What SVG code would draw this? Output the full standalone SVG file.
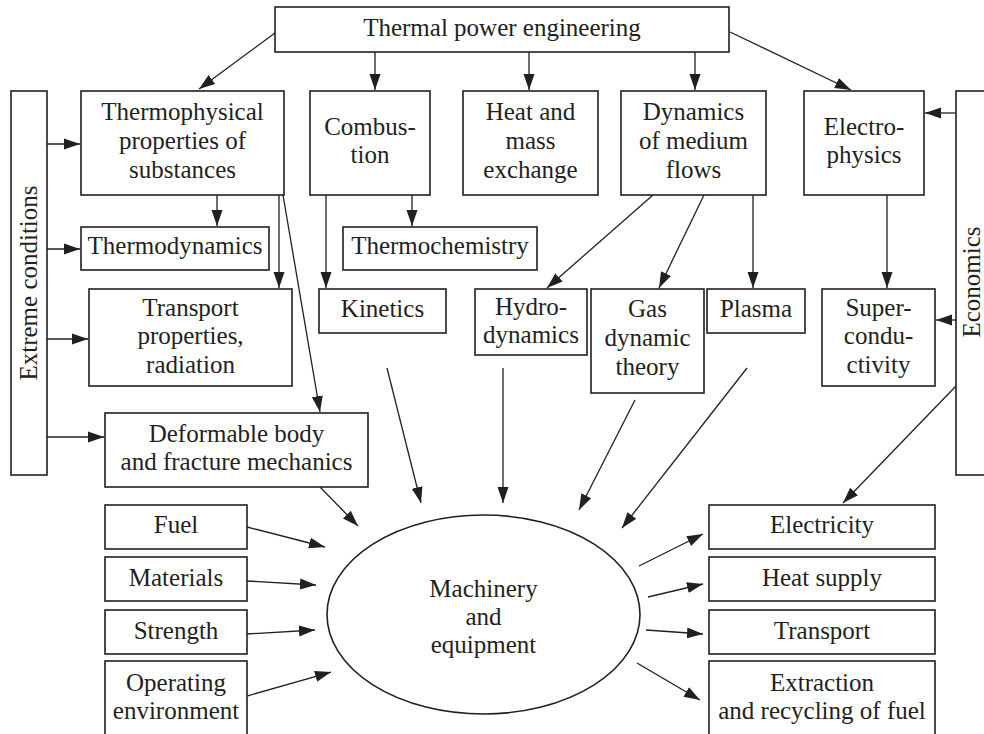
<svg xmlns="http://www.w3.org/2000/svg" width="984" height="734" viewBox="0 0 984 734" font-family="'Liberation Serif', 'DejaVu Serif', serif">
<defs>
<marker id="ah" markerUnits="userSpaceOnUse" markerWidth="17" markerHeight="13" refX="16" refY="6" orient="auto">
<path d="M0,0.5 L16,6 L0,11.5 z" fill="#231f20"/>
</marker>
<style>
rect,ellipse{fill:#fff;stroke:#231f20;stroke-width:1.6}
text{font-family:'Liberation Serif','DejaVu Serif',serif;font-size:25px;fill:#231f20;text-anchor:middle}
#connectors line{stroke:#231f20;stroke-width:1.3;marker-end:url(#ah)}
</style>
</defs>
<rect x="0" y="0" width="984" height="734" style="fill:#fff;stroke:none"/>
<g id="connectors">
<line x1="275" y1="33" x2="199" y2="89"/>
<line x1="375" y1="52" x2="375" y2="90"/>
<line x1="529" y1="52" x2="529" y2="90"/>
<line x1="695" y1="52" x2="695" y2="90"/>
<line x1="730" y1="32" x2="851" y2="90"/>
<line x1="956" y1="113" x2="925" y2="113"/>
<line x1="956" y1="320" x2="936" y2="320"/>
<line x1="47" y1="144" x2="80" y2="144"/>
<line x1="47" y1="249" x2="80" y2="249"/>
<line x1="47" y1="339" x2="88" y2="339"/>
<line x1="47" y1="437" x2="104" y2="437"/>
<line x1="217" y1="195" x2="217" y2="226"/>
<line x1="279" y1="195" x2="279" y2="288"/>
<line x1="283" y1="195" x2="320" y2="412"/>
<line x1="412" y1="195" x2="412" y2="226"/>
<line x1="326" y1="195" x2="326" y2="288"/>
<line x1="653" y1="195" x2="547" y2="288"/>
<line x1="704" y1="195" x2="659" y2="288"/>
<line x1="753" y1="195" x2="753" y2="288"/>
<line x1="887" y1="195" x2="887" y2="288"/>
<line x1="387" y1="368" x2="421" y2="503"/>
<line x1="320" y1="487" x2="358" y2="526"/>
<line x1="503" y1="368" x2="503" y2="503"/>
<line x1="635" y1="400" x2="579" y2="510"/>
<line x1="747" y1="368" x2="622" y2="528"/>
<line x1="956" y1="386" x2="843" y2="503"/>
<line x1="247" y1="527" x2="325" y2="547"/>
<line x1="247" y1="581" x2="316" y2="585"/>
<line x1="247" y1="634" x2="315" y2="630"/>
<line x1="247" y1="696" x2="331" y2="672"/>
<line x1="639" y1="566" x2="703" y2="534"/>
<line x1="648" y1="597" x2="703" y2="584"/>
<line x1="646" y1="630" x2="703" y2="634"/>
<line x1="637" y1="663" x2="700" y2="700"/>
</g>
<g id="n-thermal"><rect x="275" y="7" width="454" height="45"/><text x="502" y="36">Thermal power engineering</text></g>
<g id="n-extreme"><rect x="11" y="91" width="36" height="384"/><text transform="translate(37,283) rotate(-90)">Extreme conditions</text></g>
<g id="n-economics"><rect x="956" y="91" width="40" height="384"/><text transform="translate(980,282) rotate(-90)">Economics</text></g>
<g id="n-thermophysical"><rect x="81" y="91" width="203" height="104"/><text x="182.5" y="120">Thermophysical</text><text x="182.5" y="149">properties of</text><text x="182.5" y="178">substances</text></g>
<g id="n-combustion"><rect x="310" y="91" width="120" height="104"/><text x="370" y="135">Combus-</text><text x="370" y="163">tion</text></g>
<g id="n-heat"><rect x="463" y="91" width="135" height="104"/><text x="530.5" y="120">Heat and</text><text x="530.5" y="149">mass</text><text x="530.5" y="178">exchange</text></g>
<g id="n-dynamics"><rect x="621" y="91" width="145" height="104"/><text x="693.5" y="120">Dynamics</text><text x="693.5" y="149">of medium</text><text x="693.5" y="178">flows</text></g>
<g id="n-electro"><rect x="804" y="91" width="120" height="104"/><text x="864" y="135">Electro-</text><text x="864" y="163">physics</text></g>
<g id="n-thermodynamics"><rect x="81" y="227" width="188" height="43"/><text x="175" y="254">Thermodynamics</text></g>
<g id="n-thermochemistry"><rect x="343" y="227" width="194" height="43"/><text x="440" y="254">Thermochemistry</text></g>
<g id="n-transport-prop"><rect x="89" y="289" width="203" height="97"/><text x="190.5" y="316">Transport</text><text x="190.5" y="344">properties,</text><text x="190.5" y="373">radiation</text></g>
<g id="n-kinetics"><rect x="319" y="289" width="127" height="44"/><text x="382.5" y="317">Kinetics</text></g>
<g id="n-hydro"><rect x="475" y="289" width="112" height="66"/><text x="531" y="315">Hydro-</text><text x="531" y="343">dynamics</text></g>
<g id="n-gas"><rect x="591" y="289" width="113" height="104"/><text x="647.5" y="317">Gas</text><text x="647.5" y="346">dynamic</text><text x="647.5" y="375">theory</text></g>
<g id="n-plasma"><rect x="707" y="289" width="98" height="44"/><text x="756" y="317">Plasma</text></g>
<g id="n-super"><rect x="822" y="289" width="113" height="97"/><text x="878.5" y="316">Super-</text><text x="878.5" y="344">condu-</text><text x="878.5" y="373">ctivity</text></g>
<g id="n-deformable"><rect x="105" y="413" width="263" height="74"/><text x="236.5" y="442">Deformable body</text><text x="236.5" y="470">and fracture mechanics</text></g>
<g id="n-machinery"><ellipse cx="483.5" cy="614.5" rx="156.5" ry="99.5"/><text x="483.5" y="597">Machinery</text><text x="483.5" y="625">and</text><text x="483.5" y="653">equipment</text></g>
<g id="n-fuel"><rect x="105" y="505" width="142" height="44"/><text x="176" y="533">Fuel</text></g>
<g id="n-materials"><rect x="105" y="557" width="142" height="44"/><text x="176" y="586">Materials</text></g>
<g id="n-strength"><rect x="105" y="610" width="142" height="44"/><text x="176" y="639">Strength</text></g>
<g id="n-operating"><rect x="105" y="661" width="142" height="80"/><text x="176" y="691">Operating</text><text x="176" y="719">environment</text></g>
<g id="n-electricity"><rect x="709" y="505" width="226" height="44"/><text x="822" y="533">Electricity</text></g>
<g id="n-heatsupply"><rect x="709" y="557" width="226" height="44"/><text x="822" y="586">Heat supply</text></g>
<g id="n-transport"><rect x="709" y="610" width="226" height="44"/><text x="822" y="639">Transport</text></g>
<g id="n-extraction"><rect x="709" y="661" width="226" height="80"/><text x="822" y="691">Extraction</text><text x="822" y="719">and recycling of fuel</text></g>
</svg>
